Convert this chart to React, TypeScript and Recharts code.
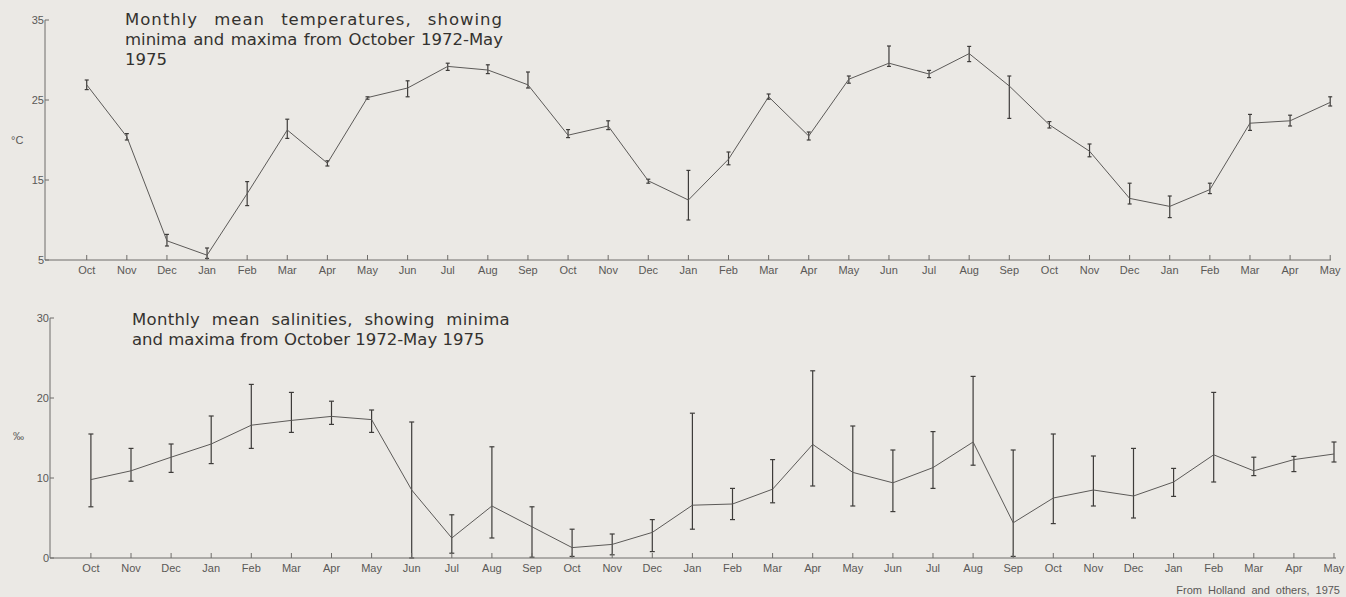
import { ErrorBar, Line, LineChart, XAxis, YAxis } from 'recharts';

const months = [
  'Oct', 'Nov', 'Dec', 'Jan', 'Feb', 'Mar', 'Apr', 'May', 'Jun', 'Jul', 'Aug', 'Sep',
  'Oct', 'Nov', 'Dec', 'Jan', 'Feb', 'Mar', 'Apr', 'May', 'Jun', 'Jul', 'Aug', 'Sep',
  'Oct', 'Nov', 'Dec', 'Jan', 'Feb', 'Mar', 'Apr', 'May',
];

// temperature, deg C
const tempMean = [26.9, 20.4, 7.4, 5.6, 13.3, 21.25, 17.1, 25.3, 26.5, 29.2, 28.75, 26.9, 20.6, 21.75, 14.9, 12.5, 17.6, 25.4, 20.5, 27.6, 29.6, 28.25, 30.8, 26.75, 21.9, 18.6, 12.7, 11.7, 13.8, 22.1, 22.4, 24.7];
const tempMin = [26.3, 20.0, 6.75, 5.2, 11.8, 20.2, 16.75, 25.1, 25.4, 28.7, 28.3, 26.5, 20.3, 21.3, 14.6, 10.0, 16.9, 25.1, 20.0, 27.1, 29.2, 27.8, 29.8, 22.7, 21.5, 17.9, 12.0, 10.3, 13.3, 21.2, 21.75, 24.25];
const tempMax = [27.5, 20.8, 8.2, 6.5, 14.8, 22.6, 17.4, 25.4, 27.4, 29.6, 29.4, 28.5, 21.3, 22.4, 15.1, 16.2, 18.5, 25.75, 21.0, 28.0, 31.75, 28.7, 31.7, 28.0, 22.3, 19.5, 14.6, 13.0, 14.6, 23.2, 23.1, 25.4];

// salinity, per mille
const salMean = [9.8, 10.9, 12.6, 14.25, 16.6, 17.2, 17.7, 17.3, 8.5, 2.5, 6.5, 3.9, 1.3, 1.7, 3.2, 6.6, 6.75, 8.6, 14.2, 10.7, 9.4, 11.3, 14.5, 4.4, 7.5, 8.5, 7.75, 9.5, 12.9, 10.9, 12.3, 13.0];
const salMin = [6.4, 9.6, 10.7, 11.8, 13.7, 15.7, 16.7, 15.7, 0, 0.6, 2.5, 0.1, 0.2, 0.4, 0.8, 3.6, 4.8, 6.9, 9.0, 6.5, 5.8, 8.7, 11.6, 0.2, 4.3, 6.5, 5.0, 7.7, 9.5, 10.3, 10.8, 12.0];
const salMax = [15.5, 13.7, 14.25, 17.75, 21.7, 20.7, 19.6, 18.5, 17.0, 5.4, 13.9, 6.4, 3.6, 3.0, 4.8, 18.1, 8.7, 12.3, 23.4, 16.5, 13.5, 15.8, 22.7, 13.5, 15.5, 12.75, 13.7, 11.2, 20.7, 12.6, 12.7, 14.5];

const tempTicks = [5, 15, 25, 35];
const salTicks = [0, 10, 20, 30];

const BG = '#ebe9e5';
const AXIS = '#6f6d6a';
const LINE = '#5c5a58';
const BAR = '#3e3c3a';
const TXT = '#5a5856';
const FONT = '"Liberation Sans", Arial, sans-serif';
const TITLE_FONT = '"DejaVu Sans", Verdana, sans-serif';

const idx = months.map((_, i) => i);

const tempData = idx.map((i) => ({
  i,
  v: tempMean[i],
  err: [tempMean[i] - tempMin[i], tempMax[i] - tempMean[i]],
}));

const salData = idx.map((i) => ({
  i,
  v: salMean[i],
  err: [salMean[i] - salMin[i], salMax[i] - salMean[i]],
}));

function MonthTick(props: any) {
  const { x, y, payload } = props;
  return (
    <g>
      <line x1={x} x2={x} y1={y} y2={y - 5} stroke={AXIS} strokeWidth={1} />
      <text x={x} y={y + 14} textAnchor="middle" fontSize={11} fill={TXT} fontFamily={FONT}>
        {months[payload.value]}
      </text>
    </g>
  );
}

function ValTick(props: any) {
  const { x, y, payload } = props;
  return (
    <g>
      <line x1={x} x2={x + 4} y1={y} y2={y} stroke={AXIS} strokeWidth={1} />
      <text x={x - 1} y={y + 4} textAnchor="end" fontSize={11} fill={TXT} fontFamily={FONT}>
        {payload.value}
      </text>
    </g>
  );
}

const justify = { textAlign: 'justify' as const, textAlignLast: 'justify' as const };

export default function App() {
  return (
    <div
      style={{
        position: 'absolute',
        left: 0,
        top: 0,
        width: 1346,
        height: 597,
        background: BG,
        fontFamily: FONT,
        color: '#34322f',
        overflow: 'hidden',
      }}
    >
      <div style={{ position: 'absolute', left: 0, top: 0 }}>
        <LineChart width={1346} height={300} data={tempData} margin={{ top: 20, right: 15, left: 0, bottom: 10 }}>
          <XAxis
            dataKey="i"
            type="number"
            domain={[-1.04, 31.02]}
            ticks={idx}
            interval={0}
            tickSize={0}
            tickMargin={0}
            tickLine={false}
            tick={<MonthTick />}
            height={30}
            stroke={AXIS}
            allowDataOverflow
          />
          <YAxis
            type="number"
            domain={[5, 35]}
            ticks={tempTicks}
            width={45}
            tickSize={0}
            tickMargin={0}
            tickLine={false}
            tick={<ValTick />}
            stroke={AXIS}
            allowDataOverflow
          />
          <Line dataKey="v" stroke={LINE} strokeWidth={1} dot={false} isAnimationActive={false}>
            <ErrorBar dataKey="err" width={2} stroke={BAR} strokeWidth={1.2} direction="y" isAnimationActive={false} />
          </Line>
        </LineChart>
      </div>

      <div style={{ position: 'absolute', left: 0, top: 300 }}>
        <LineChart width={1346} height={297} data={salData} margin={{ top: 18, right: 10, left: 0, bottom: 9 }}>
          <XAxis
            dataKey="i"
            type="number"
            domain={[-1.02, 31.05]}
            ticks={idx}
            interval={0}
            tickSize={0}
            tickMargin={0}
            tickLine={false}
            tick={<MonthTick />}
            height={30}
            stroke={AXIS}
            allowDataOverflow
          />
          <YAxis
            type="number"
            domain={[0, 30]}
            ticks={salTicks}
            width={50}
            tickSize={0}
            tickMargin={0}
            tickLine={false}
            tick={<ValTick />}
            stroke={AXIS}
            allowDataOverflow
          />
          <Line dataKey="v" stroke={LINE} strokeWidth={1} dot={false} isAnimationActive={false}>
            <ErrorBar dataKey="err" width={2.5} stroke={BAR} strokeWidth={1.2} direction="y" isAnimationActive={false} />
          </Line>
        </LineChart>
      </div>

      {/* titles */}
      <div
        style={{
          position: 'absolute',
          left: 125,
          top: 10,
          width: 378,
          fontFamily: TITLE_FONT,
          fontSize: 16.5,
          lineHeight: '20px',
        }}
      >
        <div style={{ ...justify, letterSpacing: 1 }}>Monthly mean temperatures, showing</div>
        <div style={justify}>minima and maxima from October 1972-May</div>
        <div>1975</div>
      </div>
      <div
        style={{
          position: 'absolute',
          left: 132,
          top: 310,
          width: 378,
          fontFamily: TITLE_FONT,
          fontSize: 16.5,
          lineHeight: '19.5px',
        }}
      >
        <div style={{ ...justify, letterSpacing: 0.3 }}>Monthly mean salinities, showing minima</div>
        <div>and maxima from October 1972-May 1975</div>
      </div>

      {/* axis units */}
      <div style={{ position: 'absolute', left: 11, top: 134, fontSize: 11, color: TXT }}>°C</div>
      <div style={{ position: 'absolute', left: 13, top: 430, fontSize: 11, color: TXT }}>‰</div>

      <div style={{ position: 'absolute', right: 6, top: 584, fontSize: 11, color: TXT, wordSpacing: 3 }}>
        From Holland and others, 1975
      </div>
    </div>
  );
}
